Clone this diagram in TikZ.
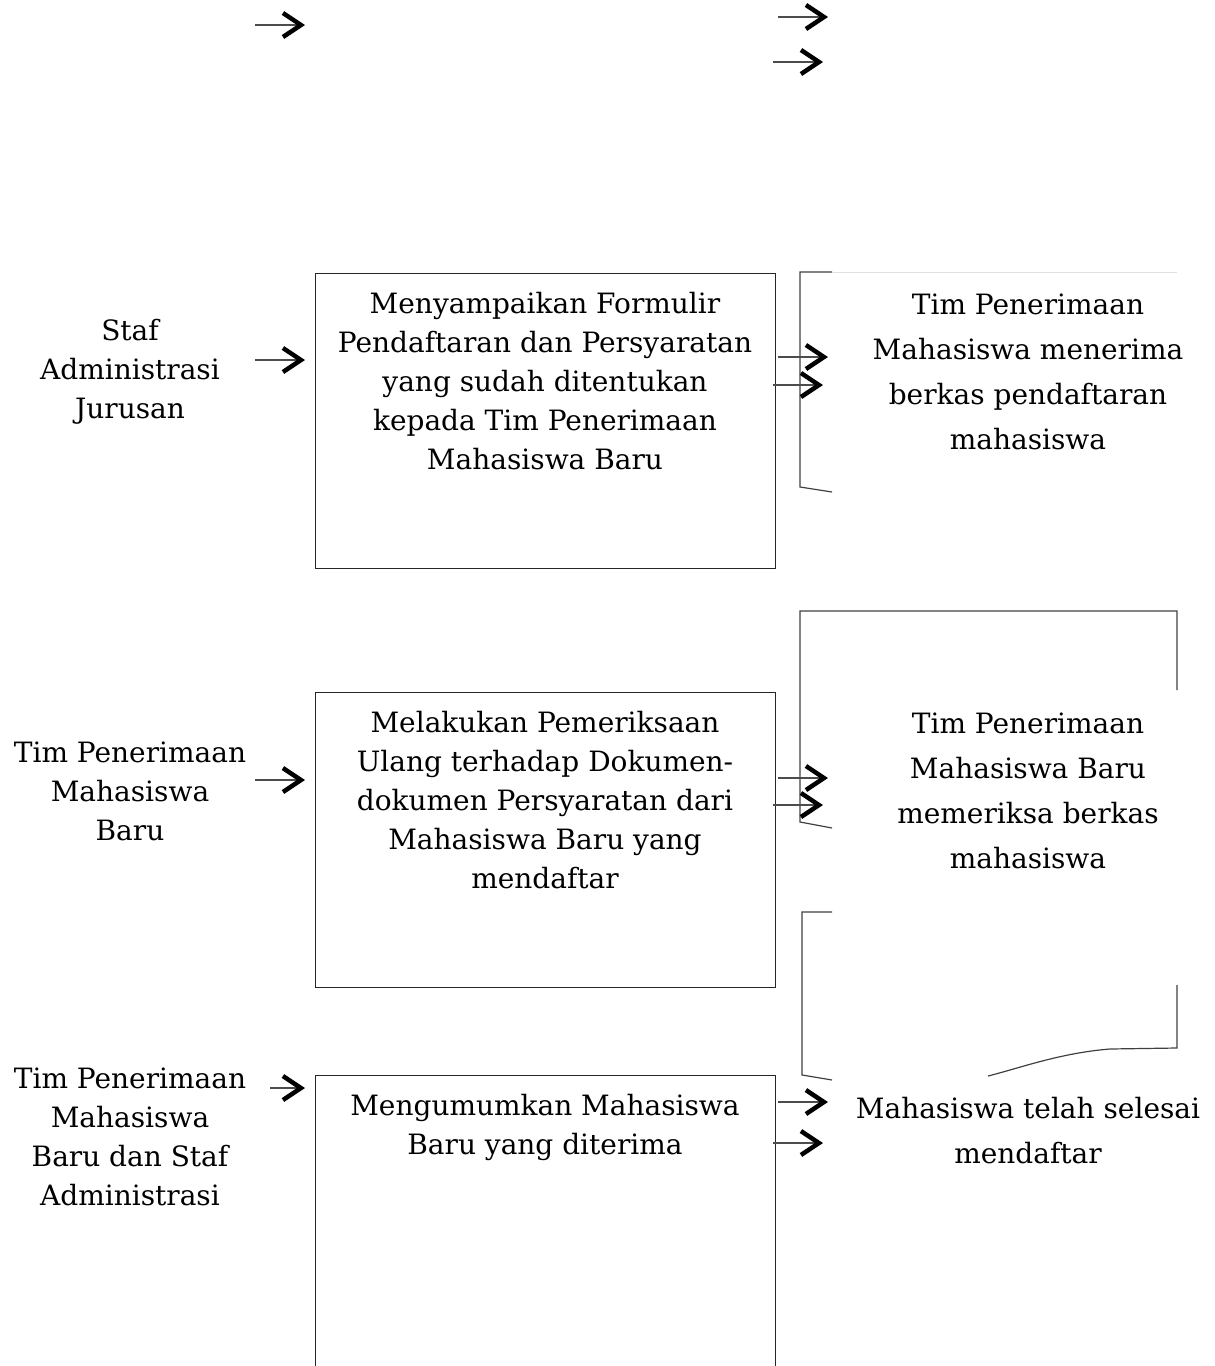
\documentclass[tikz,border=0pt]{standalone}
\usepackage{fontspec}
\setmainfont{DejaVu Serif}
\usetikzlibrary{arrows.meta,positioning}
\tikzset{
    kotak/.style={draw=black!85,line width=1pt,minimum width=460pt,inner sep=0pt},
    isi/.style={align=center,inner sep=0pt,font=\fontsize{28}{39}\selectfont},
    ket/.style={align=center,inner sep=0pt,font=\fontsize{28}{45}\selectfont},
    alur/.style={draw=black!70,line width=1.2pt,-{Straight Barb[length=18pt,width=24pt,line width'=4.5pt,color=black]}},
    tepi/.style={black!75,line width=1.2pt}
}

\begin{document}
\begin{tikzpicture}[x=1pt,y=-1pt]
\useasboundingbox (0,0) rectangle (1215,1366);

% kotak proses
\node[kotak,minimum height=295pt] (box1) at (545,420.5) {};
\node[kotak,minimum height=295pt] (box2) at (545,839.5) {};
\node[kotak,minimum height=320pt] (box3) at (545,1235) {};
\node[isi,below=20pt of box1.north] (proses1) {Menyampaikan Formulir\\Pendaftaran dan Persyaratan\\yang sudah ditentukan\\kepada Tim Penerimaan\\Mahasiswa Baru};
\node[isi,below=20pt of box2.north] (proses2) {Melakukan Pemeriksaan\\Ulang terhadap Dokumen-\\dokumen Persyaratan dari\\Mahasiswa Baru yang\\mendaftar};
\node[isi,below=20pt of box3.north] (proses3) {Mengumumkan Mahasiswa\\Baru yang diterima};

% pelaksana
\node[isi] (pel1) at (130,372) {Staf\\Administrasi\\Jurusan};
\node[isi] (pel2) at (130,791) {Tim Penerimaan\\Mahasiswa\\Baru};
\node[isi] (pel3) at (130,1137) {Tim Penerimaan\\Mahasiswa\\Baru dan Staf\\Administrasi};

% dokumen
\draw[tepi](832,272)--(800,272)--(800,487)--(832,492);
\draw[black!12,line width=1pt](832,272)--(1177,272);
\draw[tepi](1177,690)--(1177,611)--(800,611)--(800,822)--(832,828);
\draw[tepi](832,912)--(802,912)--(802,1075)--(832,1080);
\draw[tepi](1177,985)--(1177,1048)--(1110,1049)..controls(1060,1053)and(1020,1068)..(988,1076);

% keluaran
\node[ket] (hasil1) at (1028,372) {Tim Penerimaan\\Mahasiswa menerima\\berkas pendaftaran\\mahasiswa};
\node[ket] (hasil2) at (1028,791) {Tim Penerimaan\\Mahasiswa Baru\\memeriksa berkas\\mahasiswa};
\node[ket] (hasil3) at (1028,1131) {Mahasiswa telah selesai\\mendaftar};

% panah
\foreach \n/\xa/\xb/\y in {a/255/305/25,b/778/828/17,c/773/823/62,
    d/255/305/360,e/778/828/357,f/773/823/385,
    g/255/305/780,h/778/828/778,i/773/823/805,
    j/270/305/1088,k/778/828/1102,l/773/823/1143}
{
    \coordinate (\n0) at (\xa,\y);
    \coordinate (\n1) at (\xb,\y);
    \draw[alur](\n0)--(\n1);
}
\end{tikzpicture}
\end{document}
